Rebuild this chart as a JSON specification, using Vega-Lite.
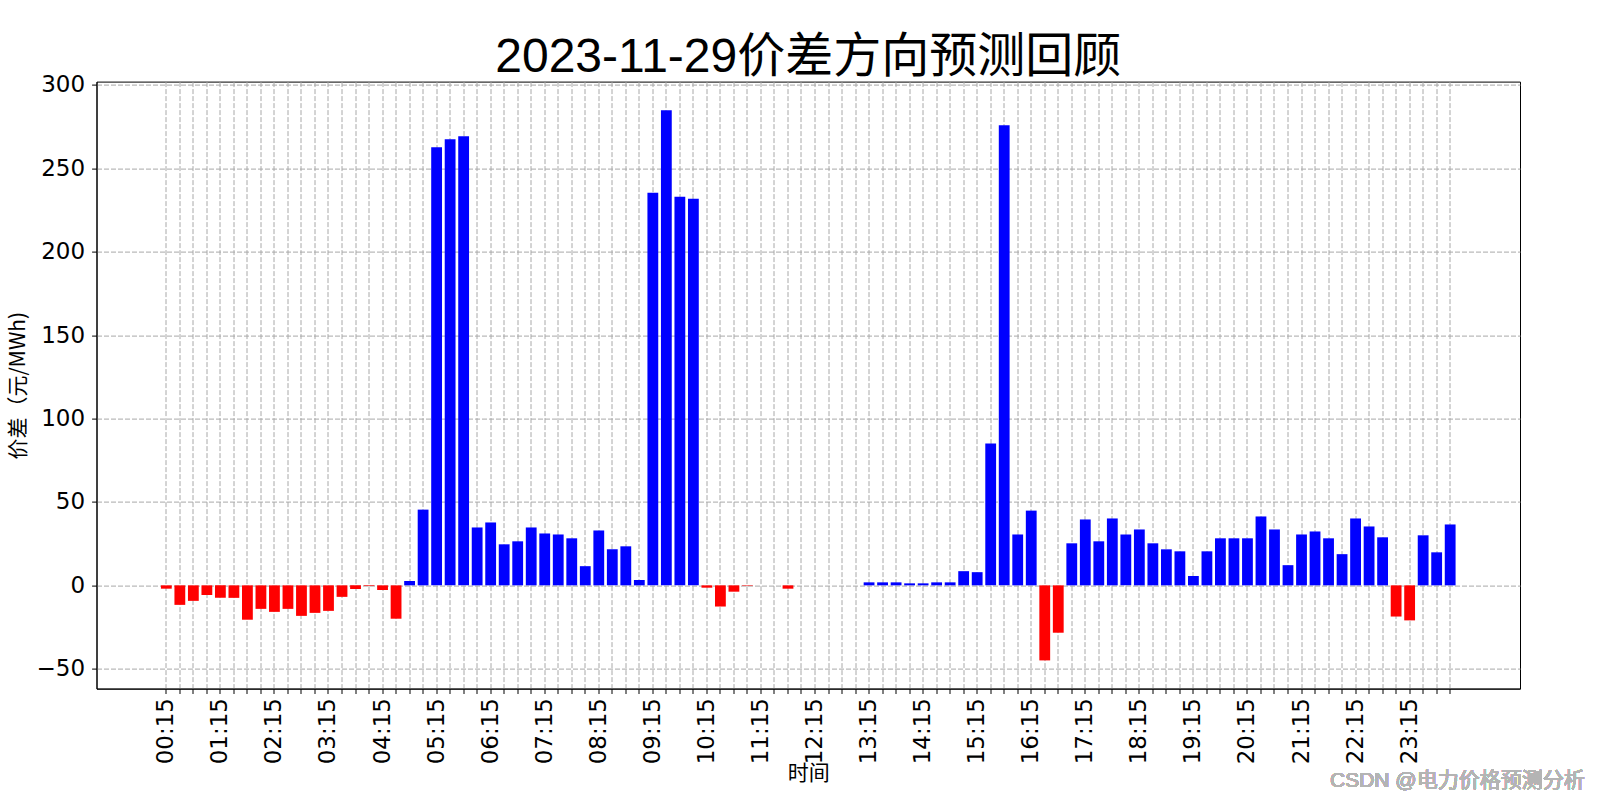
{
  "$schema": "https://vega.github.io/schema/vega-lite/v6.json",
  "width": 1423.5,
  "height": 607,
  "autosize": {"type": "none"},
  "padding": {"left": 96.5, "top": 81.6, "right": 80, "bottom": 111.4},
  "background": "white",
  "title": {
    "text": "2023-11-29价差方向预测回顾",
    "font": "Liberation Sans, Noto Sans CJK SC",
    "fontSize": 48,
    "fontWeight": "normal",
    "color": "black",
    "anchor": "middle",
    "offset": -5,
    "dy": 3
  },
  "config": {
    "view": {"stroke": "black", "strokeWidth": 1},
    "axis": {
      "domainColor": "black",
      "tickColor": "black",
      "labelColor": "black",
      "titleColor": "black",
      "labelFont": "DejaVu Sans",
      "labelFontSize": 23,
      "titleFont": "Noto Sans CJK SC",
      "titleFontSize": 21,
      "titleFontWeight": "normal",
      "tickSize": 4.9,
      "grid": true,
      "gridColor": "#a8a8a8",
      "gridDash": [5, 2],
      "gridWidth": 1,
      "zindex": 1
    }
  },
  "data": {
    "values": [
      {"t": "00:15", "v": -2.0}, {"t": "00:30", "v": -11.7}, {"t": "00:45", "v": -9.3}, {"t": "01:00", "v": -5.8},
      {"t": "01:15", "v": -7.5}, {"t": "01:30", "v": -7.5}, {"t": "01:45", "v": -20.6}, {"t": "02:00", "v": -14.1},
      {"t": "02:15", "v": -15.9}, {"t": "02:30", "v": -14.1}, {"t": "02:45", "v": -18.3}, {"t": "03:00", "v": -16.5},
      {"t": "03:15", "v": -15.3}, {"t": "03:30", "v": -6.9}, {"t": "03:45", "v": -2.2}, {"t": "04:00", "v": -0.4},
      {"t": "04:15", "v": -2.8}, {"t": "04:30", "v": -20.0}, {"t": "04:45", "v": 2.6}, {"t": "05:00", "v": 45.4},
      {"t": "05:15", "v": 262.7}, {"t": "05:30", "v": 267.5}, {"t": "05:45", "v": 269.3}, {"t": "06:00", "v": 34.7},
      {"t": "06:15", "v": 37.7}, {"t": "06:30", "v": 24.6}, {"t": "06:45", "v": 26.4}, {"t": "07:00", "v": 34.7},
      {"t": "07:15", "v": 31.1}, {"t": "07:30", "v": 30.5}, {"t": "07:45", "v": 28.2}, {"t": "08:00", "v": 11.5},
      {"t": "08:15", "v": 32.9}, {"t": "08:30", "v": 21.6}, {"t": "08:45", "v": 23.4}, {"t": "09:00", "v": 3.2},
      {"t": "09:15", "v": 235.3}, {"t": "09:30", "v": 284.8}, {"t": "09:45", "v": 232.9}, {"t": "10:00", "v": 231.7},
      {"t": "10:15", "v": -1.4}, {"t": "10:30", "v": -12.7}, {"t": "10:45", "v": -3.8}, {"t": "11:00", "v": -0.3},
      {"t": "11:15", "v": 0}, {"t": "11:30", "v": 0}, {"t": "11:45", "v": -2.0}, {"t": "12:00", "v": 0},
      {"t": "12:15", "v": 0}, {"t": "12:30", "v": 0}, {"t": "12:45", "v": 0}, {"t": "13:00", "v": 0},
      {"t": "13:15", "v": 1.8}, {"t": "13:30", "v": 1.8}, {"t": "13:45", "v": 1.8}, {"t": "14:00", "v": 1.2},
      {"t": "14:15", "v": 1.2}, {"t": "14:30", "v": 1.8}, {"t": "14:45", "v": 1.8}, {"t": "15:00", "v": 8.5},
      {"t": "15:15", "v": 7.9}, {"t": "15:30", "v": 85.1}, {"t": "15:45", "v": 275.8}, {"t": "16:00", "v": 30.5},
      {"t": "16:15", "v": 44.8}, {"t": "16:30", "v": -45.0}, {"t": "16:45", "v": -28.4}, {"t": "17:00", "v": 25.2},
      {"t": "17:15", "v": 39.5}, {"t": "17:30", "v": 26.4}, {"t": "17:45", "v": 40.1}, {"t": "18:00", "v": 30.5},
      {"t": "18:15", "v": 33.5}, {"t": "18:30", "v": 25.2}, {"t": "18:45", "v": 21.6}, {"t": "19:00", "v": 20.4},
      {"t": "19:15", "v": 5.6}, {"t": "19:30", "v": 20.4}, {"t": "19:45", "v": 28.2}, {"t": "20:00", "v": 28.2},
      {"t": "20:15", "v": 28.2}, {"t": "20:30", "v": 41.3}, {"t": "20:45", "v": 33.5}, {"t": "21:00", "v": 12.1},
      {"t": "21:15", "v": 30.5}, {"t": "21:30", "v": 32.3}, {"t": "21:45", "v": 28.2}, {"t": "22:00", "v": 18.7},
      {"t": "22:15", "v": 40.1}, {"t": "22:30", "v": 35.3}, {"t": "22:45", "v": 28.8}, {"t": "23:00", "v": -18.7},
      {"t": "23:15", "v": -21.0}, {"t": "23:30", "v": 30.0}, {"t": "23:45", "v": 19.8}, {"t": "24:00", "v": 36.5}
    ]
  },
  "layer": [
    {
      "mark": {"type": "bar"},
      "encoding": {
        "x": {
          "field": "t",
          "type": "ordinal",
          "sort": null,
          "scale": {
            "type": "band",
            "paddingInner": 0.2,
            "paddingOuter": 0.767,
            "domain": [
              "p1", "p2", "p3", "p4",
              "00:15", "00:30", "00:45", "01:00", "01:15", "01:30", "01:45", "02:00",
              "02:15", "02:30", "02:45", "03:00", "03:15", "03:30", "03:45", "04:00",
              "04:15", "04:30", "04:45", "05:00", "05:15", "05:30", "05:45", "06:00",
              "06:15", "06:30", "06:45", "07:00", "07:15", "07:30", "07:45", "08:00",
              "08:15", "08:30", "08:45", "09:00", "09:15", "09:30", "09:45", "10:00",
              "10:15", "10:30", "10:45", "11:00", "11:15", "11:30", "11:45", "12:00",
              "12:15", "12:30", "12:45", "13:00", "13:15", "13:30", "13:45", "14:00",
              "14:15", "14:30", "14:45", "15:00", "15:15", "15:30", "15:45", "16:00",
              "16:15", "16:30", "16:45", "17:00", "17:15", "17:30", "17:45", "18:00",
              "18:15", "18:30", "18:45", "19:00", "19:15", "19:30", "19:45", "20:00",
              "20:15", "20:30", "20:45", "21:00", "21:15", "21:30", "21:45", "22:00",
              "22:15", "22:30", "22:45", "23:00", "23:15", "23:30", "23:45", "24:00",
              "q1", "q2", "q3", "q4"
            ]
          },
          "axis": {
            "title": "时间",
            "titlePadding": -1,
            "labelAngle": 270,
            "labelPadding": 4,
            "labelOverlap": false,
            "labelExpr": "slice(datum.value, 2) == ':15' ? datum.value : ''",
            "gridOpacity": {"condition": {"test": "length(datum.value) < 5", "value": 0}, "value": 1},
            "tickOpacity": {"condition": {"test": "length(datum.value) < 5", "value": 0}, "value": 1}
          }
        },
        "y": {
          "field": "v",
          "type": "quantitative",
          "scale": {"domain": [-61.9, 302], "nice": false, "zero": false},
          "axis": {
            "title": "价差（元/MWh)",
            "values": [-50, 0, 50, 100, 150, 200, 250, 300],
            "labelPadding": 7,
            "titlePadding": 8
          }
        },
        "color": {
          "condition": {"test": "datum.v < 0", "value": "#ff0000"},
          "value": "#0000ff"
        }
      }
    },
    {
      "mark": {
        "type": "text",
        "text": "CSDN @电力价格预测分析",
        "font": "Liberation Sans, Noto Sans CJK SC",
        "fontSize": 21,
        "fontWeight": "normal",
        "color": "#b4b4b4",
        "align": "right",
        "baseline": "middle",
        "dx": 134.5,
        "dy": 92.5
      },
      "encoding": {
        "x": {"datum": "24:00", "type": "ordinal"},
        "y": {"datum": -61.9, "type": "quantitative"}
      }
    }
  ]
}
